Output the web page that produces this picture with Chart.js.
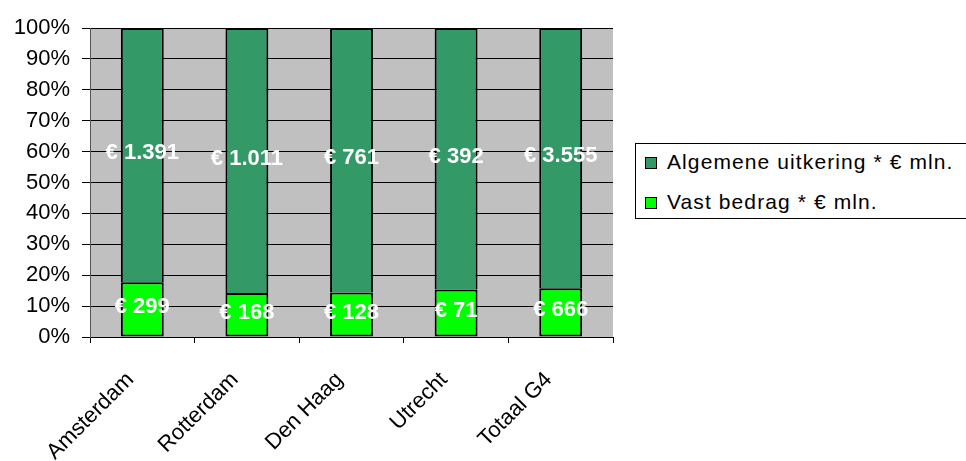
<!DOCTYPE html>
<html>
<head>
<meta charset="utf-8">
<script src="https://cdn.jsdelivr.net/npm/chart.js@4.4.1/dist/chart.umd.min.js"></script>
<style>
  body { margin: 0; background: #fff; }
  #wrap { position: relative; width: 966px; height: 461px; overflow: hidden; }
  #legend {
    position: absolute; left: 635px; top: 143px; width: 340px; height: 74px;
    border: 1px solid #000; background: #fff;
    font-family: "Liberation Sans", Arial, sans-serif; font-size: 21px; letter-spacing: 1.1px; color: #000;
  }
  .item { position: absolute; left: 9px; height: 22px; line-height: 22px; white-space: nowrap; }
  .item span.box { display: inline-block; width: 10px; height: 10px; border: 1px solid #000; margin-right: 10px; vertical-align: 0px; }
</style>
</head>
<body>
<div id="wrap">
  <canvas id="c" width="966" height="461"></canvas>
  <div id="legend"></div>
</div>
<script>
var categories = ['Amsterdam', 'Rotterdam', 'Den Haag', 'Utrecht', 'Totaal G4'];
var vastBedrag = [299, 168, 128, 71, 666];
var algemeneUitkering = [1391, 1011, 761, 392, 3555];
var yTicks = [0, 10, 20, 30, 40, 50, 60, 70, 80, 90, 100];

var seriesNames = ['Vast bedrag * \u20AC mln.', 'Algemene uitkering * \u20AC mln.'];
var colors = ['#00FF00', '#339966'];

// 100% stacked: share of each city's total
function share(vals, idx) {
  var tot = vastBedrag[idx] + algemeneUitkering[idx];
  return vals[idx] / tot * 100;
}
var vastPct = vastBedrag.map(function (v, i) { return share(vastBedrag, i); });
var algPct = algemeneUitkering.map(function (v, i) { return share(algemeneUitkering, i); });

function euro(v) {
  return '\u20AC ' + v.toString().replace(/\B(?=(\d{3})+(?!\d))/g, '.');
}

var plotBg = {
  id: 'plotBg',
  beforeDraw: function (chart) {
    var a = chart.chartArea, ctx = chart.ctx;
    ctx.save();
    ctx.fillStyle = '#C0C0C0';
    ctx.fillRect(a.left, a.top, a.right - a.left, a.bottom - a.top);
    ctx.restore();
  }
};

var valueLabels = {
  id: 'valueLabels',
  afterDatasetsDraw: function (chart) {
    var ctx = chart.ctx;
    ctx.save();
    ctx.font = 'bold 22px "Liberation Sans", Arial, sans-serif';
    ctx.fillStyle = '#fff';
    ctx.textAlign = 'center';
    ctx.textBaseline = 'middle';
    chart.data.datasets.forEach(function (ds, di) {
      var meta = chart.getDatasetMeta(di);
      meta.data.forEach(function (bar, i) {
        var y = (bar.y + bar.base) / 2 - 2;
        ctx.fillText(euro(ds.raw[i]), bar.x, y);
      });
    });
    ctx.restore();
  }
};

new Chart(document.getElementById('c').getContext('2d'), {
  type: 'bar',
  data: {
    labels: categories,
    datasets: [{
      label: seriesNames[0],
      data: vastPct,
      raw: vastBedrag,
      backgroundColor: colors[0],
      borderColor: '#000',
      borderWidth: 2,
      borderSkipped: false
    }, {
      label: seriesNames[1],
      data: algPct,
      raw: algemeneUitkering,
      backgroundColor: colors[1],
      borderColor: '#000',
      borderWidth: 2,
      borderSkipped: 'bottom'
    }]
  },
  options: {
    responsive: false,
    animation: false,
    events: [],
    categoryPercentage: 1,
    barPercentage: 0.41,
    layout: { padding: { top: 28, right: 353, left: 0, bottom: 0 } },
    plugins: { legend: { display: false }, tooltip: { enabled: false } },
    scales: {
      x: {
        stacked: true,
        afterFit: function (s) { s.height = 124; },
        grid: { offset: true, drawOnChartArea: false, drawTicks: true, tickLength: 6, color: '#000' },
        border: { color: '#000', width: 1 },
        ticks: {
          color: '#000', maxRotation: 45, minRotation: 45, padding: 24, labelOffset: -12,
          font: { family: '"Liberation Sans", Arial, sans-serif', size: 22 }
        }
      },
      y: {
        stacked: true,
        min: 0, max: 100,
        afterFit: function (s) { s.width = 90; },
        afterBuildTicks: function (s) { s.ticks = yTicks.map(function (v) { return { value: v }; }); },
        grid: { color: '#000', lineWidth: 1, tickLength: 8 },
        border: { color: '#555', width: 1 },
        ticks: {
          color: '#000', padding: 12,
          font: { family: '"Liberation Sans", Arial, sans-serif', size: 22 },
          callback: function (v) { return v + '%'; }
        }
      }
    }
  },
  plugins: [plotBg, valueLabels]
});

// legend, reversed order like the reference
var leg = document.getElementById('legend');
[1, 0].forEach(function (k, row) {
  var d = document.createElement('div');
  d.className = 'item';
  d.style.top = (7 + row * 40) + 'px';
  d.innerHTML = '<span class="box" style="background:' + colors[k] + '"></span>' + seriesNames[k];
  leg.appendChild(d);
});
</script>
</body>
</html>
